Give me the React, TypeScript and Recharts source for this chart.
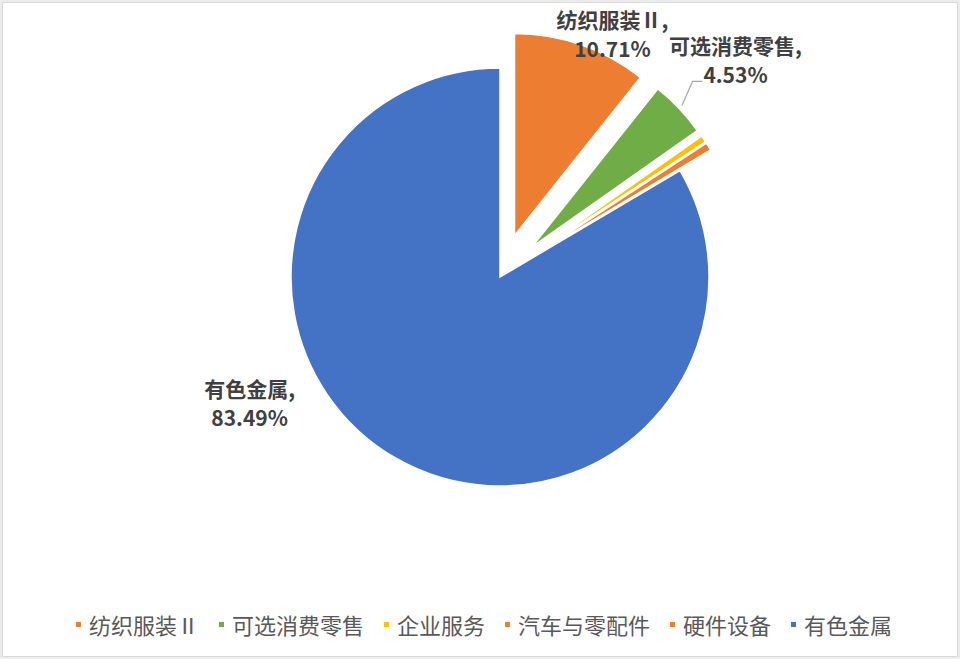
import React from "react";
import { PieChart, Pie, Cell, Legend, Sector } from "recharts";

// industry weights, clockwise from 12 o'clock
const industries = ["纺织服装Ⅱ", "可选消费零售", "企业服务", "汽车与零配件", "硬件设备", "有色金属"];
const weights = [10.71, 4.53, 0.55, 0.62, 0.1, 83.49];
const colors = ["#ED7D31", "#70AD47", "#FFC000", "#ED7D31", "#ED7D31", "#4472C4"];
const pulledOut = ["纺织服装Ⅱ", "可选消费零售", "企业服务", "汽车与零配件", "硬件设备"];
const labelled = ["纺织服装Ⅱ", "可选消费零售", "有色金属"];

const data = industries.map((name, i) => ({ name, value: weights[i] }));

const FONT = '"Noto Sans CJK SC", "Noto Sans", sans-serif';
const RAD = Math.PI / 180;
const EXPLODE = 44;

const polar = (cx: number, cy: number, r: number, angle: number) => ({
  x: cx + r * Math.cos(-angle * RAD),
  y: cy + r * Math.sin(-angle * RAD),
});

function SliceShape(props: any) {
  const { cx, cy, outerRadius, startAngle, endAngle, midAngle, fill } = props;
  const name = props.name ?? props.payload?.name;
  const out = pulledOut.includes(name);
  const c = polar(cx, cy, out ? EXPLODE : 0, midAngle);
  return (
    <Sector
      cx={c.x}
      cy={c.y}
      innerRadius={0}
      outerRadius={out ? outerRadius - 7 : outerRadius}
      startAngle={startAngle}
      endAngle={endAngle}
      fill={fill}
      stroke="#fff"
      strokeWidth={1.5}
    />
  );
}

// nudges for label boxes relative to a point just outside the slice
const labelNudge: Record<string, [number, number]> = {
  "纺织服装Ⅱ": [27, 0],
  "可选消费零售": [47, -40],
  "有色金属": [-122, -100],
};

function SliceLabel(props: any) {
  const { cx, cy, midAngle, outerRadius, percent } = props;
  const name = props.name ?? props.payload?.name;
  if (!labelled.includes(name)) return null;
  const base = polar(cx, cy, outerRadius + 50, midAngle);
  const [nx, ny] = labelNudge[name];
  const lx = base.x + nx;
  const ly = base.y + ny;
  const pct = `${(percent * 100).toFixed(2)}%`;
  let leader = null;
  if (name === "可选消费零售") {
    const v = polar(cx, cy, EXPLODE, midAngle);
    const s = polar(v.x, v.y, outerRadius - 3, midAngle);
    leader = (
      <polyline
        points={`${s.x},${s.y} ${lx - 43},${ly + 22} ${lx - 33},${ly + 22}`}
        fill="none"
        stroke="#a6a6a6"
        strokeWidth={1.2}
      />
    );
  }
  return (
    <g>
      {leader}
      <text
        x={lx}
        textAnchor="middle"
        fill="#404040"
        fontFamily={FONT}
        fontSize={21}
        fontWeight="bold"
      >
        <tspan x={lx} y={ly - 14} dominantBaseline="central">
          {name},
        </tspan>
        <tspan x={lx} y={ly + 15} dominantBaseline="central">
          {pct}
        </tspan>
      </text>
    </g>
  );
}

function LegendRow(props: any) {
  const items = [...(props.payload || [])].sort(
    (a: any, b: any) => industries.indexOf(a.value) - industries.indexOf(b.value)
  );
  return (
    <div
      style={{
        display: "flex",
        justifyContent: "center",
        alignItems: "center",
        paddingLeft: 8,
        fontFamily: FONT,
        fontSize: 22,
        color: "#595959",
        lineHeight: "30px",
      }}
    >
      {items.map((it: any, i: number) => (
        <div key={i} style={{ display: "flex", alignItems: "center", marginRight: i < items.length - 1 ? 20 : 0 }}>
          <span style={{ width: 5, height: 5, background: it.color, marginRight: 8, display: "inline-block" }} />
          <span>{it.value}</span>
        </div>
      ))}
    </div>
  );
}

export default function App() {
  return (
    <div style={{ position: "absolute", left: 0, top: 0, width: 960, height: 659, background: "#ececec" }}>
      <div
        style={{
          position: "absolute",
          left: 2,
          top: 2,
          width: 954,
          height: 653,
          background: "#fff",
          border: "1px solid #d9d9d9",
        }}
      />
      <div style={{ position: "absolute", left: 0, top: 0 }}>
        <PieChart width={960} height={659} margin={{ top: 0, right: 0, bottom: 0, left: 0 }}>
          <Pie
            data={data}
            dataKey="value"
            nameKey="name"
            cx={500}
            cy={277}
            outerRadius={209}
            startAngle={90}
            endAngle={-270}
            stroke="#fff"
            strokeWidth={1.5}
            shape={SliceShape}
            label={SliceLabel}
            labelLine={false}
            isAnimationActive={false}
          >
            {data.map((d, i) => (
              <Cell key={d.name} fill={colors[i]} />
            ))}
          </Pie>
          <Legend
            content={<LegendRow />}
            itemSorter={null as any}
            wrapperStyle={{ top: 609, left: 0, width: 960 }}
          />
        </PieChart>
      </div>
    </div>
  );
}
